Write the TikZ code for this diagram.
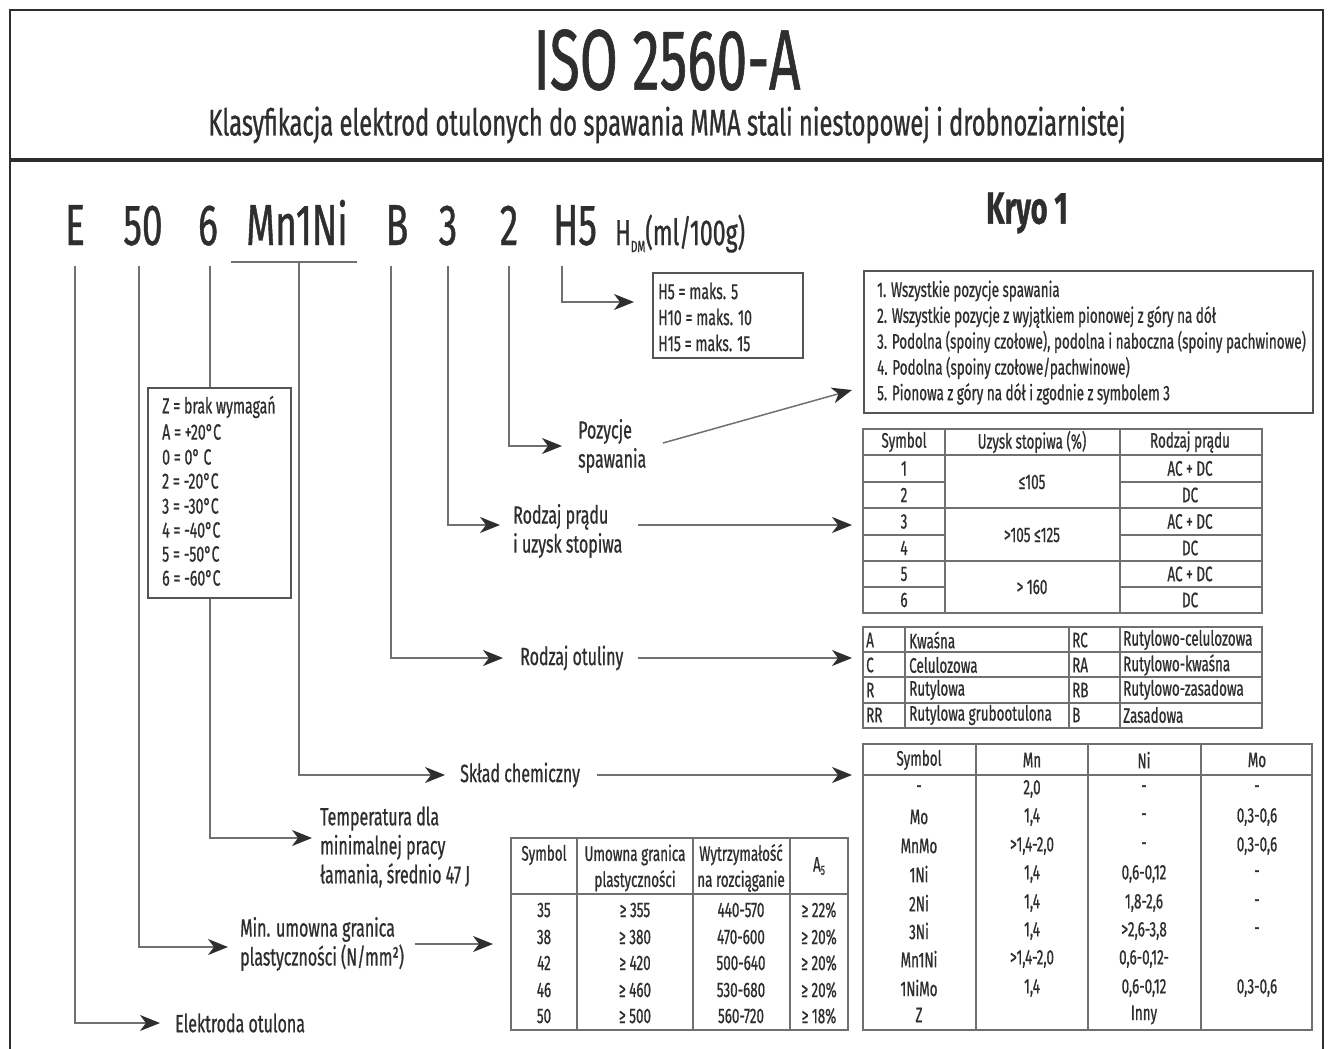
\documentclass[tikz,border=0pt]{standalone}
\usepackage{fontspec}
\setmainfont{Fira Sans}[FakeStretch=0.64, FakeBold=0.7]
\usetikzlibrary{arrows.meta}
\definecolor{txt}{HTML}{2E2E2E}
\definecolor{ln}{HTML}{707070}
\definecolor{boxc}{HTML}{555555}
\newcommand\myfs[2]{\fontsize{#1}{#2}\selectfont}
\tikzset{
  lbl/.style={anchor=west, inner sep=0pt, align=left, font=\myfs{25}{29}, text=txt},
  cell/.style={inner sep=0pt, font=\myfs{21}{26}, text=txt},
  lcell/.style={cell, anchor=west},
  bcell/.style={lcell, font=\myfs{22}{26}},
  code/.style={anchor=base, inner sep=0pt, font=\myfs{58}{60}, text=txt},
  conn/.style={draw=ln, line width=1.5pt, -{Stealth[length=20pt,width=16pt,inset=6pt,color=txt]}},
  plain/.style={draw=ln, line width=1.5pt},
  gridl/.style={draw=ln, line width=1.2pt},
  boxl/.style={draw=boxc, line width=1.6pt},
}
\begin{document}
\begin{tikzpicture}[x=1pt,y=-1pt]
\useasboundingbox (0,0) rectangle (1330,1049);
\fill[white] (0,0) rectangle (1330,1049);
% frame
\draw[draw=txt, line width=2pt] (10,1049) -- (10,10) -- (1323,10) -- (1323,1049);
\draw[draw=txt, line width=4pt] (10,160) -- (1323,160);
\node[inner sep=0pt, font=\myfs{86}{86}, text=txt] (title) at (667,60) {ISO 2560-A};
\node[inner sep=0pt, font=\myfs{37}{38}, text=txt] (sub) at (667,125) {Klasyfikacja elektrod otulonych do spawania MMA stali niestopowej i drobnoziarnistej};
% code line
\node[code] (cE) at (75,245) {E};
\node[code] (c50) at (143,245) {50};
\node[code] (c6) at (208,245) {6};
\node[code] (cMn) at (297,245) {Mn1Ni};
\node[code] (cB) at (397,245) {B};
\node[code] (c3) at (448,245) {3};
\node[code] (c2) at (509,245) {2};
\node[code] (cH) at (575,245) {H5};
\node[anchor=base west, inner sep=0pt, font=\myfs{36}{36}, text=txt] (hdm) at (615,245) {H\raisebox{-7pt}{\myfs{16}{16}DM}(ml/100g)};
\draw[plain] (231,262) -- (357,262);
\node[inner sep=0pt, font=\myfs{45}{46}\bfseries, text=txt] (kryo) at (1027,213) {Kryo 1};
% top coordinates
\coordinate (tE) at (75,266);
\coordinate (t50) at (139,266);
\coordinate (t6) at (210,266);
\coordinate (tMn) at (299,263);
\coordinate (tB) at (391,266);
\coordinate (t3) at (448,266);
\coordinate (t2) at (509,266);
\coordinate (tH) at (562,266);
% H box
\node[boxl, draw, anchor=north west, minimum width=150pt, minimum height=85pt, inner sep=0pt] (hbox) at (652,272) {};
\node[bcell] (h1) at (658,291) {H5 = maks. 5};
\node[bcell] (h2) at (658,317) {H10 = maks. 10};
\node[bcell] (h3) at (658,343) {H15 = maks. 15};
\coordinate (hin) at (634,302);
\draw[conn] (tH) |- (hin);
% pozycje box
\node[boxl, draw, anchor=north west, minimum width=449pt, minimum height=142pt, inner sep=0pt] (pbox) at (863,270) {};
\node[lcell] (p1) at (877,291) {1. Wszystkie pozycje spawania};
\node[lcell] (p2) at (877,317) {2. Wszystkie pozycje z wyjątkiem pionowej z góry na dół};
\node[lcell] (p3) at (877,342) {3. Podolna (spoiny czołowe), podolna i naboczna (spoiny pachwinowe)};
\node[lcell] (p4) at (877,368) {4. Podolna (spoiny czołowe/pachwinowe)};
\node[lcell] (p5) at (877,394) {5. Pionowa z góry na dół i zgodnie z symbolem 3};
% labels
\node[lbl] (poz) at (578,446) {Pozycje\\spawania};
\node[lbl] (rpr) at (513,531) {Rodzaj prądu\\i uzysk stopiwa};
\node[lbl] (rot) at (520,658) {Rodzaj otuliny};
\node[lbl] (skl) at (460,775) {Skład chemiczny};
\node[lbl] (tem) at (320,847) {Temperatura dla\\minimalnej pracy\\łamania, średnio 47 J};
\node[lbl] (min) at (240,944) {Min. umowna granica\\plastyczności (N/mm²)};
\node[lbl] (ele) at (175,1023) {Elektroda otulona};
% temp box
\node[boxl, draw, anchor=north west, minimum width=143pt, minimum height=210pt, inner sep=0pt] (tbox) at (147,387) {};
\node[bcell] at (162,407) {Z = brak wymagań};
\node[bcell] at (162,432) {A = +20°C};
\node[bcell] at (162,457) {0 = 0° C};
\node[bcell] at (162,481) {2 = -20°C};
\node[bcell] at (162,506) {3 = -30°C};
\node[bcell] at (162,530) {4 = -40°C};
\node[bcell] at (162,554) {5 = -50°C};
\node[bcell] at (162,578) {6 = -60°C};
% connectors from code
\draw[conn] (t2) |- (562,446);
\draw[conn] (t3) |- (500,525);
\draw[conn] (tB) |- (503,658);
\draw[conn] (tMn) |- (445,775);
\draw[plain] (t6) -- (tbox.north -| t6);
\draw[conn] (tbox.south -| t6) |- (312,838);
\draw[conn] (t50) |- (228,947);
\draw[conn] (tE) |- (160,1023);
% right arrows
\draw[conn] (663,443) -- (852,390);
\draw[conn] (638,525) -- (852,525);
\draw[conn] (638,658) -- (852,658);
\draw[conn] (597,775) -- (852,775);
\draw[conn] (415,944) -- (493,944);
% current table
\draw[gridl] (863,429) rectangle (1262,613);
\draw[gridl] (945,429) -- (945,613) (1120,429) -- (1120,613);
\draw[gridl] (863,455) -- (1262,455);
\foreach \y in {482,535,587} {\draw[gridl] (863,\y) -- (945,\y) (1120,\y) -- (1262,\y);}
\foreach \y in {508,561} {\draw[gridl] (863,\y) -- (1262,\y);}
\node[cell] at (904,442) {Symbol};
\node[cell] at (1032,442) {Uzysk stopiwa (\%)};
\node[cell] at (1190,442) {Rodzaj prądu};
\foreach \n/\y in {1/468.5,2/495,3/521.5,4/548,5/574,6/600} {\node[cell] at (904,\y) {\n};}
\foreach \t/\y in {AC + DC/468.5,DC/495,AC + DC/521.5,DC/548,AC + DC/574,DC/600} {\node[cell] at (1190,\y) {\t};}
\node[cell] at (1032,482) {≤105};
\node[cell] at (1032,535) {>105 ≤125};
\node[cell] at (1032,587) {> 160};
% coating table
\draw[gridl] (863,627) rectangle (1262,728);
\draw[gridl] (905,627) -- (905,728) (1069,627) -- (1069,728) (1120,627) -- (1120,728);
\foreach \y in {652,677,703} {\draw[gridl] (863,\y) -- (1262,\y);}
\foreach \a/\b/\c/\d/\y in {A/Kwaśna/RC/Rutylowo-celulozowa/640, C/Celulozowa/RA/Rutylowo-kwaśna/665, R/Rutylowa/RB/Rutylowo-zasadowa/690, RR/Rutylowa grubootulona/B/Zasadowa/715}
 {\node[lcell] at (866,\y) {\a}; \node[lcell] at (909,\y) {\b}; \node[lcell] at (1072,\y) {\c}; \node[lcell] at (1123,\y) {\d};}
% chem table
\draw[gridl] (863,744) rectangle (1312,1030);
\draw[gridl] (976,744) -- (976,1030) (1088,744) -- (1088,1030) (1201,744) -- (1201,1030);
\draw[gridl] (863,775) -- (1312,775);
\node[cell] at (919,760) {Symbol};
\node[cell] at (1032,760) {Mn};
\node[cell] at (1144,760) {Ni};
\node[cell] at (1257,760) {Mo};
\foreach \a/\b/\c/\d/\y in {{-}/{2,0}/{-}/{-}/789, {Mo}/{1,4}/{-}/{0,3-0,6}/817, {MnMo}/{>1,4-2,0}/{-}/{0,3-0,6}/846, {1Ni}/{1,4}/{0,6-0,12}/{-}/874, {2Ni}/{1,4}/{1,8-2,6}/{-}/903, {3Ni}/{1,4}/{>2,6-3,8}/{-}/931, {Mn1Ni}/{>1,4-2,0}/{0,6-0,12-}/{}/959, {1NiMo}/{1,4}/{0,6-0,12}/{0,3-0,6}/988, {Z}/{}/{Inny}/{}/1015}
 {\node[cell] at (919,\y) {\a}; \node[cell] at (1032,\y) {\b}; \node[cell] at (1144,\y) {\c}; \node[cell] at (1257,\y) {\d};}
% strength table
\draw[gridl] (511,838) rectangle (848,1030);
\draw[gridl] (577,838) -- (577,1030) (693,838) -- (693,1030) (790,838) -- (790,1030);
\draw[gridl] (511,894) -- (848,894);
\node[cell] at (544,855) {Symbol};
\node[cell, align=center] at (635,868) {Umowna granica\\plastyczności};
\node[cell, align=center] at (741,868) {Wytrzymałość\\na rozciąganie};
\node[cell] at (819,866) {A\raisebox{-3pt}{\myfs{13}{13}5}};
\foreach \a/\b/\c/\d/\y in {35/≥ 355/440-570/≥ 22\%/910, 38/≥ 380/470-600/≥ 20\%/937, 42/≥ 420/500-640/≥ 20\%/963, 46/≥ 460/530-680/≥ 20\%/990, 50/≥ 500/560-720/≥ 18\%/1016}
 {\node[cell] at (544,\y) {\a}; \node[cell] at (635,\y) {\b}; \node[cell] at (741,\y) {\c}; \node[cell] at (819,\y) {\d};}
\end{tikzpicture}
\end{document}
